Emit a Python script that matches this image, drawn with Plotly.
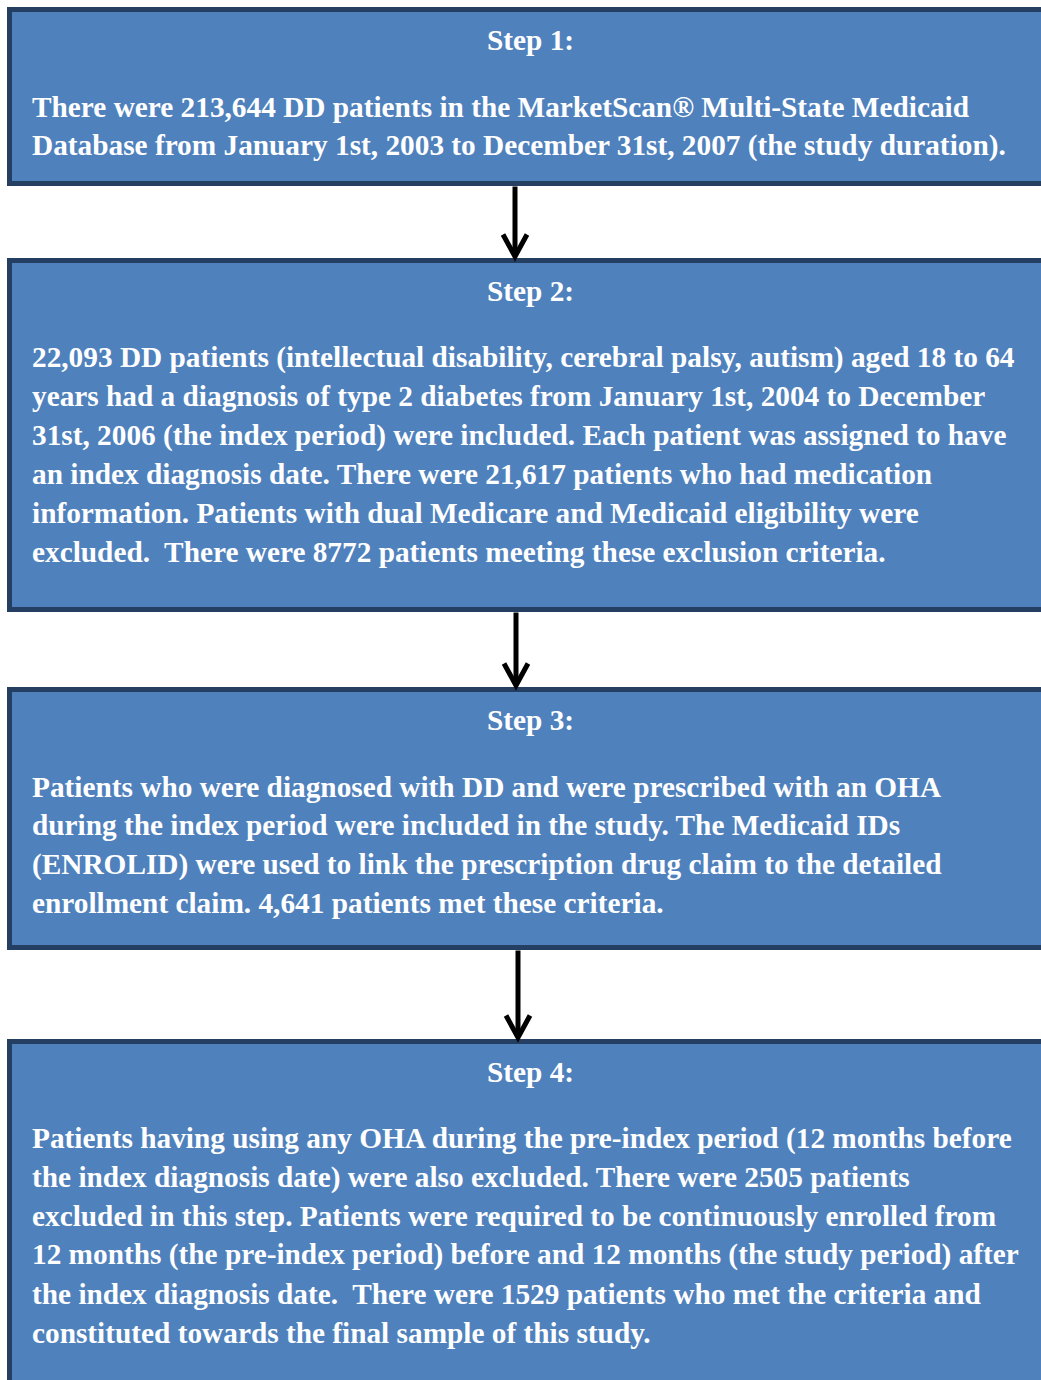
import plotly.graph_objects as go

W, H = 1041, 1380

step_titles = ["Step 1:", "Step 2:", "Step 3:", "Step 4:"]
step_lines = [
    ["There were 213,644 DD patients in the MarketScan® Multi-State Medicaid",
     "Database from January 1st, 2003 to December 31st, 2007 (the study duration)."],
    ["22,093 DD patients (intellectual disability, cerebral palsy, autism) aged 18 to 64",
     "years had a diagnosis of type 2 diabetes from January 1st, 2004 to December",
     "31st, 2006 (the index period) were included. Each patient was assigned to have",
     "an index diagnosis date. There were 21,617 patients who had medication",
     "information. Patients with dual Medicare and Medicaid eligibility were",
     "excluded.  There were 8772 patients meeting these exclusion criteria."],
    ["Patients who were diagnosed with DD and were prescribed with an OHA",
     "during the index period were included in the study. The Medicaid IDs",
     "(ENROLID) were used to link the prescription drug claim to the detailed",
     "enrollment claim. 4,641 patients met these criteria."],
    ["Patients having using any OHA during the pre-index period (12 months before",
     "the index diagnosis date) were also excluded. There were 2505 patients",
     "excluded in this step. Patients were required to be continuously enrolled from",
     "12 months (the pre-index period) before and 12 months (the study period) after",
     "the index diagnosis date.  There were 1529 patients who met the criteria and",
     "constituted towards the final sample of this study."],
]

# layout geometry (pixels)
box_tops = [9.5, 260.5, 689.5, 1041.5]
box_bottoms = [183.5, 609.5, 947.5, 1400]
box_left, box_right = 9.5, 1053
arrow_x = [515, 516, 518]

FILL = "#4F81BD"
EDGE = "#253F62"
FONT = "Liberation Serif, Times New Roman, serif"
FS = 29.3
LINE_H = 38.8

fig = go.Figure()
fig.add_trace(go.Scatter(x=[0, W], y=[0, H], mode="markers", marker=dict(opacity=0),
                         hoverinfo="skip", showlegend=False))

shapes = []
annotations = []
for i, title in enumerate(step_titles):
    t = box_tops[i]
    shapes.append(dict(type="rect", xref="x", yref="y", x0=box_left, x1=box_right, y0=t, y1=box_bottoms[i],
                       fillcolor=FILL, line=dict(color=EDGE, width=5), layer="below"))
    annotations.append(dict(x=530, y=t + 30, xref="x", yref="y", text="<b>%s</b>" % title, showarrow=False,
                            xanchor="center", yanchor="middle", font=dict(family=FONT, size=FS, color="white")))
    for j, line in enumerate(step_lines[i]):
        annotations.append(dict(x=30, y=t + 97 + j * LINE_H, xref="x", yref="y", text="<b>%s</b>" % line,
                                showarrow=False, xanchor="left", yanchor="middle",
                                font=dict(family=FONT, size=FS, color="white")))

for i, ax in enumerate(arrow_x):
    y0 = box_bottoms[i] + 3
    y1 = box_tops[i + 1] - 3
    shapes.append(dict(type="line", xref="x", yref="y", x0=ax, x1=ax, y0=y0, y1=y1 - 2,
                       line=dict(color="black", width=5)))
    shapes.append(dict(type="path", xref="x", yref="y",
                       path="M %f %f L %f %f L %f %f" % (ax - 12, y1 - 23, ax, y1 - 1, ax + 12, y1 - 23),
                       line=dict(color="black", width=5)))

fig.update_layout(
    width=W, height=H, margin=dict(l=0, r=0, t=0, b=0),
    paper_bgcolor="white", plot_bgcolor="white",
    xaxis=dict(range=[0, W], visible=False, fixedrange=True),
    yaxis=dict(range=[H, 0], visible=False, fixedrange=True),
    shapes=shapes, annotations=annotations, showlegend=False,
)
fig.write_html("out.html", config={"displayModeBar": False},
               post_script="document.body.style.margin='0';document.body.style.overflow='hidden';")
